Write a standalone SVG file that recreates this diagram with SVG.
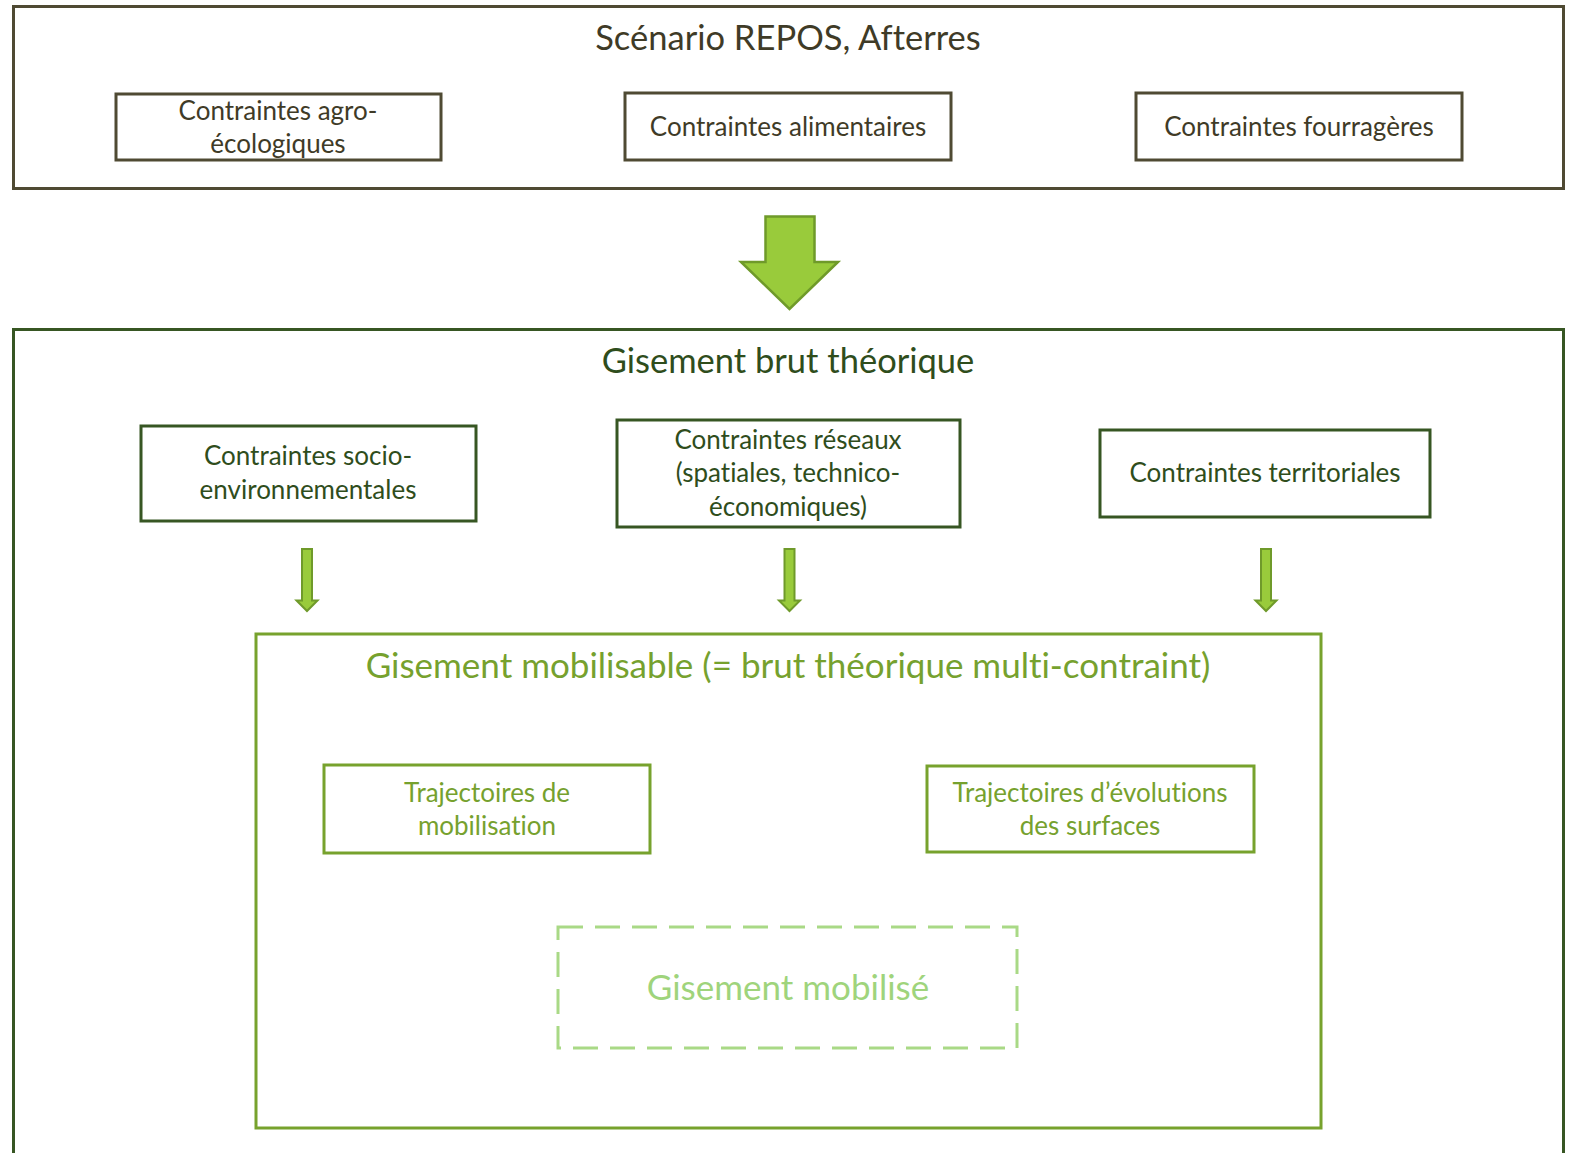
<svg xmlns="http://www.w3.org/2000/svg" width="1572" height="1153" viewBox="0 0 1572 1153">
<defs>
<style>
text{font-family:Lato,"Open Sans","Liberation Sans",sans-serif;text-anchor:middle;font-variant-ligatures:none}
.t1{fill:#3f3b27;font-size:26px}
.h1{fill:#3f3b27;font-size:34.5px}
.b1{fill:none;stroke:#4f4a33;stroke-width:3}
.t2{fill:#2f4d1c;font-size:26px}
.h2{fill:#2f4d1c;font-size:34.5px}
.b2{fill:none;stroke:#375623;stroke-width:3}
.t3{fill:#76a12e;font-size:26px}
.h3{fill:#76a12e;font-size:35px}
.b3{fill:none;stroke:#77a22d;stroke-width:3}
.dash{fill:none;stroke:#a9d986;stroke-width:3;stroke-dasharray:25 12}
.h4{fill:#9fd47c;font-size:35px}
.arr{fill:#99cb3b;stroke:#6f9a2a;stroke-width:2.5;stroke-linejoin:miter}
.sarr{fill:#99cb3b;stroke:#6f9a2a;stroke-width:2}
</style>
</defs>
<rect width="1572" height="1153" fill="#ffffff"/>

<g id="scenario">
<rect class="b1" x="13.5" y="6.5" width="1550" height="182"/>
<text class="h1" x="788" y="50">Scénario REPOS, Afterres</text>
</g>
<g id="agro">
<rect class="b1" x="116" y="94" width="325" height="66"/>
<text class="t1" x="278" y="120">Contraintes agro-</text>
<text class="t1" x="278" y="153">écologiques</text>
</g>
<g id="alimentaires">
<rect class="b1" x="625" y="93" width="326" height="67"/>
<text class="t1" x="788" y="136">Contraintes alimentaires</text>
</g>
<g id="fourrageres">
<rect class="b1" x="1136" y="93" width="326" height="67"/>
<text class="t1" x="1299" y="136">Contraintes fourragères</text>
</g>

<g id="brut">
<rect class="b2" x="13.5" y="329.5" width="1550" height="840"/>
<text class="h2" x="788" y="373">Gisement brut théorique</text>
</g>
<g id="socio">
<rect class="b2" x="141" y="426" width="335" height="95"/>
<text class="t2" x="308" y="465">Contraintes socio-</text>
<text class="t2" x="308" y="499">environnementales</text>
</g>
<g id="reseaux">
<rect class="b2" x="617" y="420" width="343" height="107"/>
<text class="t2" x="788" y="449">Contraintes réseaux</text>
<text class="t2" x="788" y="482">(spatiales, technico-</text>
<text class="t2" x="788" y="516">économiques)</text>
</g>
<g id="territoriales">
<rect class="b2" x="1100" y="430" width="330" height="87"/>
<text class="t2" x="1265" y="482">Contraintes territoriales</text>
</g>

<g id="mobilisable">
<rect class="b3" x="256" y="634" width="1065" height="494"/>
<text class="h3" x="788" y="678">Gisement mobilisable (= brut théorique multi-contraint)</text>
</g>
<g id="traj-mob">
<rect class="b3" x="324" y="765" width="326" height="88"/>
<text class="t3" x="487" y="802">Trajectoires de</text>
<text class="t3" x="487" y="835">mobilisation</text>
</g>
<g id="traj-surf">
<rect class="b3" x="927" y="766" width="327" height="86"/>
<text class="t3" x="1090" y="802">Trajectoires d’évolutions</text>
<text class="t3" x="1090" y="835">des surfaces</text>
</g>
<g id="mobilise">
<rect class="dash" x="558" y="927" width="459" height="121"/>
<text class="h4" x="788" y="1000">Gisement mobilisé</text>
</g>

<g id="connectors">
<path class="arr" d="M765.5,216.5 H814.5 V262 H838 L789.5,309 L741,262 H765.5 Z"/>
<path class="sarr" d="M302,549 H312 V600.5 H317.5 L307,611 L296.5,600.5 H302 Z"/>
<path class="sarr" d="M784.5,549 H794.5 V600.5 H800 L789.5,611 L779,600.5 H784.5 Z"/>
<path class="sarr" d="M1261,549 H1271 V600.5 H1276.5 L1266,611 L1255.5,600.5 H1261 Z"/>
</g>
</svg>
